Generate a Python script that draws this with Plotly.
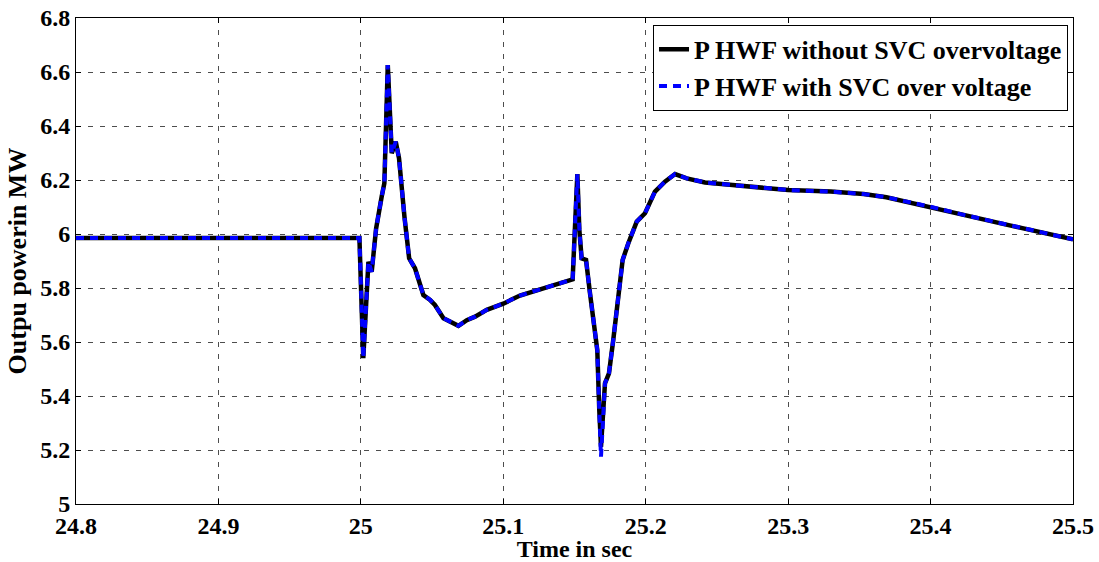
import plotly.graph_objects as go

# time axis (s)
time_s = [24.8, 24.999, 25.0017, 25.0053, 25.0076, 25.0107, 25.0146, 25.0165, 25.0189, 25.0217,
          25.0245, 25.0268, 25.0306, 25.0339, 25.038, 25.0439, 25.0486, 25.052, 25.058, 25.0626,
          25.0685, 25.0744, 25.0802, 25.0884, 25.1, 25.1117, 25.1258, 25.1375, 25.1487, 25.152,
          25.1534, 25.155, 25.1581, 25.1609, 25.1644, 25.166, 25.1674, 25.1686, 25.1714, 25.1742,
          25.1772, 25.1812, 25.1838, 25.1878, 25.1937, 25.1995, 25.2065, 25.2135, 25.2206, 25.2288,
          25.2416, 25.259, 25.3, 25.33, 25.353, 25.369, 25.4, 25.424, 25.447, 25.47, 25.5]

p_without_svc = [5.985, 5.985, 5.54, 5.897, 5.86, 6.02, 6.138, 6.188, 6.626, 6.299,
                 6.342, 6.28, 6.064, 5.91, 5.873, 5.774, 5.756, 5.737, 5.688, 5.675,
                 5.66, 5.681, 5.694, 5.719, 5.742, 5.772, 5.795, 5.817, 5.832, 6.222,
                 6.015, 5.91, 5.904, 5.78, 5.644, 5.57, 5.348, 5.212, 5.447, 5.484,
                 5.607, 5.793, 5.904, 5.966, 6.046, 6.077, 6.157, 6.194, 6.222, 6.206,
                 6.191, 6.182, 6.163, 6.157, 6.148, 6.136, 6.101, 6.070, 6.042, 6.015, 5.98]

p_with_svc = [5.985, 5.985, 5.54, 5.897, 5.86, 6.02, 6.138, 6.188, 6.626, 6.299,
              6.342, 6.28, 6.064, 5.91, 5.873, 5.774, 5.756, 5.737, 5.688, 5.675,
              5.66, 5.681, 5.694, 5.719, 5.742, 5.772, 5.795, 5.817, 5.832, 6.222,
              6.015, 5.91, 5.904, 5.78, 5.644, 5.57, 5.348, 5.175, 5.447, 5.484,
              5.607, 5.793, 5.904, 5.966, 6.046, 6.077, 6.157, 6.194, 6.222, 6.206,
              6.191, 6.182, 6.163, 6.157, 6.148, 6.136, 6.101, 6.070, 6.042, 6.015, 5.98]

x_tick_vals = [24.8, 24.9, 25.0, 25.1, 25.2, 25.3, 25.4, 25.5]
x_tick_text = ["24.8", "24.9", "25", "25.1", "25.2", "25.3", "25.4", "25.5"]
y_tick_vals = [5.0, 5.2, 5.4, 5.6, 5.8, 6.0, 6.2, 6.4, 6.6, 6.8]
y_tick_text = ["5", "5.2", "5.4", "5.6", "5.8", "6", "6.2", "6.4", "6.6", "6.8"]

FONT = "Liberation Serif"

fig = go.Figure()
fig.add_trace(go.Scatter(x=time_s, y=p_without_svc, mode="lines",
                         name="P HWF without SVC overvoltage",
                         line=dict(color="black", width=4.5)))
fig.add_trace(go.Scatter(x=time_s, y=p_with_svc, mode="lines",
                         name="P HWF with SVC over voltage",
                         line=dict(color="#0000ff", width=4, dash="8px,6px")))

fig.update_xaxes(
    range=[24.8, 25.5], tickvals=x_tick_vals, ticktext=x_tick_text,
    showline=True, linecolor="black", linewidth=1, mirror="ticks",
    ticks="inside", ticklen=5, tickcolor="black",
    showgrid=True, gridcolor="#4d4d4d", gridwidth=1, griddash="5px,7px",
    zeroline=False,
    tickfont=dict(family=FONT, size=24, color="black", weight="bold"),
    title=dict(text="Time in sec", standoff=0,
               font=dict(family=FONT, size=24, color="black", weight="bold")),
)
fig.update_yaxes(
    range=[5.0, 6.8], tickvals=y_tick_vals, ticktext=y_tick_text,
    showline=True, linecolor="black", linewidth=1, mirror="ticks",
    ticks="inside", ticklen=5, tickcolor="black",
    showgrid=True, gridcolor="#4d4d4d", gridwidth=1, griddash="5px,7px",
    zeroline=False,
    tickfont=dict(family=FONT, size=24, color="black", weight="bold"),
    title=dict(text="Outpu powerin MW", standoff=6,
               font=dict(family=FONT, size=26, color="black", weight="bold")),
)

fig.update_layout(
    width=1099, height=562,
    font=dict(family=FONT, size=24, color="black", weight="bold"),
    margin=dict(l=76, r=26, t=18, b=58, autoexpand=False),
    paper_bgcolor="white", plot_bgcolor="white",
    showlegend=True,
    legend=dict(x=0.995, y=0.986, xanchor="right", yanchor="top",
                bgcolor="white", bordercolor="black", borderwidth=1,
                font=dict(family=FONT, size=26, color="black", weight="bold"),
                tracegroupgap=0, itemwidth=30),
)

fig.write_html("out.html")
